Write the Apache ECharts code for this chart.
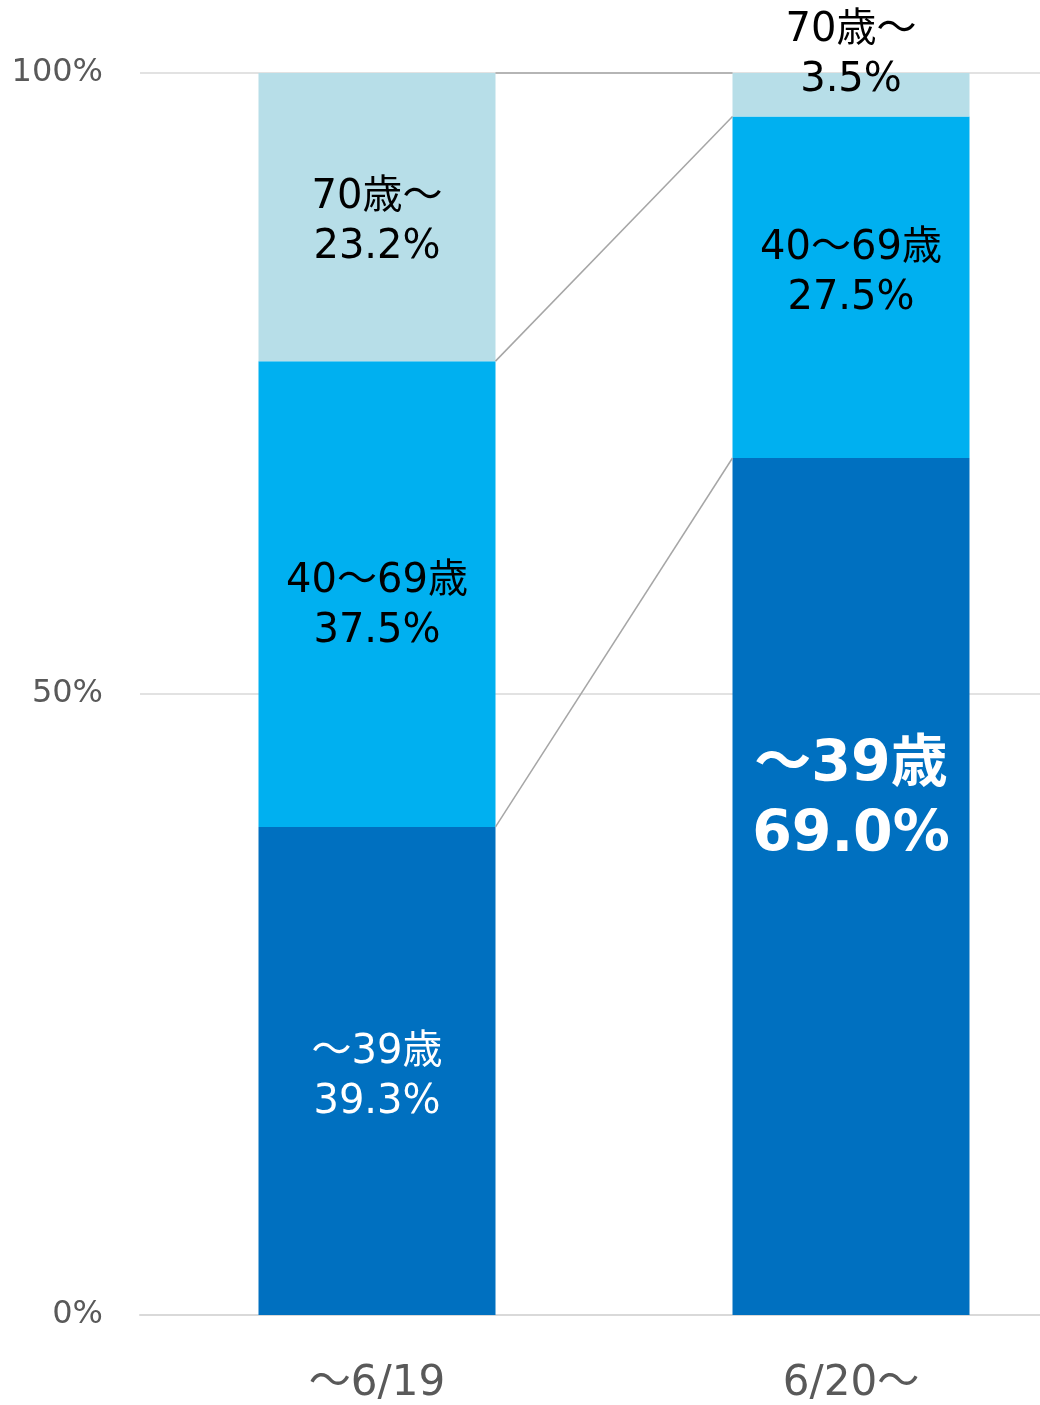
<!DOCTYPE html>
<html>
<head>
<meta charset="utf-8">
<script src="https://cdn.jsdelivr.net/npm/echarts@6/dist/echarts.min.js"></script>
<style>
html,body{margin:0;padding:0;background:#fff;overflow:hidden;width:1040px;height:1405px;}
#main{width:1088px;height:1405px;}
</style>
</head>
<body>
<div id="main"></div>
<script>
// ---- data ----
var categories = ['～6/19', '6/20～'];
var seriesNames = ['～39歳', '40～69歳', '70歳～'];
var under39 = [39.3, 69.0];
var age40to69 = [37.5, 27.5];
var over70 = [23.2, 3.5];
var yTicks = [0, 50, 100];

var FONT = '"DejaVu Sans", "Noto Sans CJK JP", sans-serif';
var colors = ['#0070C0', '#00B0F0', '#B7DEE8'];

// cumulative levels for connector lines
var cumA = [under39[0], under39[0] + age40to69[0], under39[0] + age40to69[0] + over70[0]];
var cumB = [under39[1], under39[1] + age40to69[1], under39[1] + age40to69[1] + over70[1]];
var connectorData = cumA.map(function (v, i) { return [0, v, cumB[i]]; });

function labelFmt(name) {
  return function (p) { return name + '\n' + p.value.toFixed(1) + '%'; };
}

function makeItems(values, itemLabels) {
  return values.map(function (v, i) {
    var o = { value: v };
    if (itemLabels && itemLabels[i]) o.label = itemLabels[i];
    return o;
  });
}

var baseLabel = {
  show: true,
  position: 'inside',
  fontFamily: FONT,
  fontSize: 40,
  lineHeight: 50,
  color: '#000'
};

var chart = echarts.init(document.getElementById('main'), null, { renderer: 'canvas' });
chart.setOption({
  animation: false,
  grid: { left: 140, right: 0, top: 73, bottom: 90, outerBoundsMode: 'none' },
  xAxis: {
    type: 'category',
    data: categories,
    axisLine: { show: true, lineStyle: { color: '#D9D9D9', width: 2 } },
    axisTick: { show: false },
    axisLabel: { color: '#595959', fontSize: 42, fontFamily: FONT, margin: 48 }
  },
  yAxis: {
    type: 'value',
    min: yTicks[0],
    max: yTicks[yTicks.length - 1],
    interval: yTicks[1] - yTicks[0],
    axisLine: { show: false },
    axisTick: { show: false },
    splitLine: { lineStyle: { color: '#D9D9D9', width: 1.5 } },
    axisLabel: { color: '#595959', fontSize: 32, fontFamily: FONT, margin: 37, padding: [0, 0, 8, 0], formatter: '{value}%' }
  },
  series: [
    {
      name: seriesNames[0], type: 'bar', stack: 'all', barWidth: '50%',
      itemStyle: { color: colors[0] },
      label: Object.assign({}, baseLabel, { color: '#fff', offset: [0, 7], formatter: labelFmt(seriesNames[0]) }),
      data: makeItems(under39, [null, { fontSize: 57, fontWeight: 'bold', lineHeight: 70, offset: [0, -85] }])
    },
    {
      name: seriesNames[1], type: 'bar', stack: 'all', barWidth: '50%',
      itemStyle: { color: colors[1] },
      label: Object.assign({}, baseLabel, { formatter: labelFmt(seriesNames[1]) }),
      data: makeItems(age40to69, [{ offset: [0, 13] }, { offset: [0, -14] }])
    },
    {
      name: seriesNames[2], type: 'bar', stack: 'all', barWidth: '50%',
      itemStyle: { color: colors[2] },
      label: Object.assign({}, baseLabel, { formatter: labelFmt(seriesNames[2]) }),
      data: makeItems(over70, [{ offset: [0, 6] }, { offset: [0, -39] }])
    },
    {
      type: 'custom',
      silent: true,
      z: 5,
      data: connectorData,
      encode: { x: 0, y: [1, 2] },
      renderItem: function (params, api) {
        var p1 = api.coord([0, api.value(1)]);
        var p2 = api.coord([1, api.value(2)]);
        var half = api.size([1, 0])[0] * 0.25;
        return {
          type: 'line',
          shape: { x1: p1[0] + half, y1: p1[1], x2: p2[0] - half, y2: p2[1] },
          style: { stroke: '#A6A6A6', lineWidth: 1.5 }
        };
      }
    }
  ]
});
</script>
</body>
</html>
